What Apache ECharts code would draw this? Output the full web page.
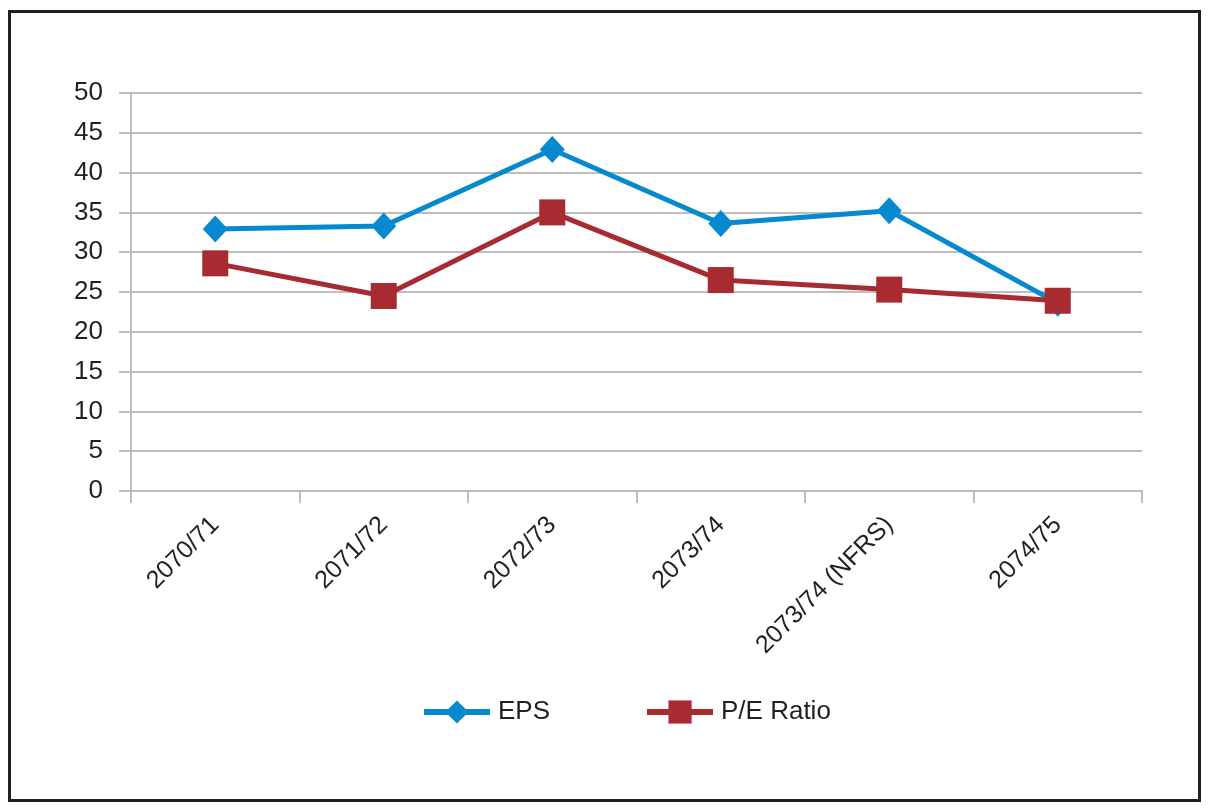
<!DOCTYPE html>
<html>
<head>
<meta charset="utf-8">
<script src="https://cdn.jsdelivr.net/npm/echarts@6/dist/echarts.min.js"></script>
<style>
html,body{margin:0;padding:0;background:#fff;}
#c{width:1208px;height:810px;}
</style>
</head>
<body>
<div id="c"></div>
<script>
const categories = ['2070/71', '2071/72', '2072/73', '2073/74', '2073/74 (NFRS)', '2074/75'];
const epsValues = [32.9, 33.3, 42.9, 33.6, 35.2, 23.6];
const peValues = [28.6, 24.5, 35.0, 26.5, 25.3, 23.9];
const yTicks = { min: 0, max: 50, interval: 5 };

const chart = echarts.init(document.getElementById('c'));
const font = 'Liberation Sans, Arial, sans-serif';
chart.setOption({
  animation: false,
  backgroundColor: '#fff',
  graphic: [{
    type: 'rect', z: 100,
    shape: { x: 9.5, y: 11.5, width: 1190, height: 789 },
    style: { fill: 'none', stroke: '#231f20', lineWidth: 3 }
  }],
  grid: { left: 131, right: 66, top: 93, bottom: 319 },
  legend: {
    top: 699,
    left: 421,
    padding: 0,
    itemWidth: 66,
    itemHeight: 29,
    itemGap: 94,
    lineStyle: { width: 6 },
    textStyle: { fontFamily: font, fontSize: 26, color: '#231f20', padding: [0, 0, 0, 3] },
    data: ['EPS', 'P/E Ratio']
  },
  xAxis: {
    type: 'category',
    data: categories,
    boundaryGap: true,
    axisLine: { lineStyle: { color: '#bcbec0', width: 2 } },
    axisTick: { show: true, length: 12, alignWithLabel: false, lineStyle: { color: '#bcbec0', width: 2 } },
    axisLabel: { rotate: 45, margin: 30, fontFamily: font, fontSize: 25, color: '#231f20', interval: 0 },
    splitLine: { show: false }
  },
  yAxis: {
    type: 'value',
    min: yTicks.min, max: yTicks.max, interval: yTicks.interval,
    axisLine: { show: true, lineStyle: { color: '#bcbec0', width: 2 } },
    axisTick: { show: true, length: 12, lineStyle: { color: '#bcbec0', width: 2 } },
    axisLabel: { margin: 28, fontFamily: font, fontSize: 26, color: '#231f20' },
    splitLine: { lineStyle: { color: '#bcbec0', width: 2 } }
  },
  series: [
    {
      name: 'EPS', type: 'line', data: epsValues,
      symbol: 'diamond', symbolSize: [25, 27],
      lineStyle: { color: '#0689cf', width: 5 },
      itemStyle: { color: '#0689cf' },
      z: 2
    },
    {
      name: 'P/E Ratio', type: 'line', data: peValues,
      symbol: 'rect', symbolSize: 26,
      lineStyle: { color: '#a72b31', width: 5 },
      itemStyle: { color: '#a72b31' },
      z: 3
    }
  ]
});
</script>
</body>
</html>
